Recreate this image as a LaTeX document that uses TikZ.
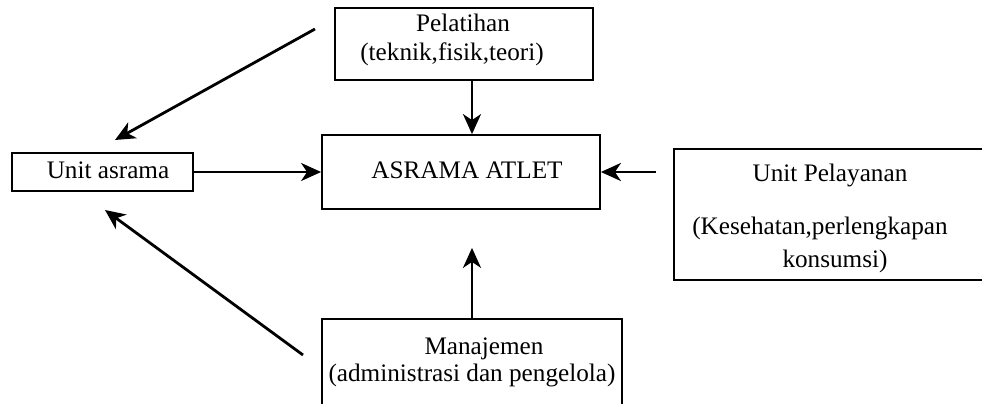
\documentclass[tikz,border=0pt]{standalone}
\usepackage{fontspec}
\setmainfont{Liberation Serif}
\usetikzlibrary{arrows.meta}
\begin{document}
\begin{tikzpicture}[x=1pt,y=-1pt,
  box/.style={draw=black, line width=1.8pt, inner sep=0pt, fill=none},
  lbl/.style={font=\fontsize{25.2}{29}\selectfont, anchor=base, inner sep=0pt},
  arr/.style={line width=2.8pt, -{Stealth[length=20pt,width=18pt,inset=6pt]}}]
  % canvas
  \useasboundingbox (0,0) rectangle (982,404);
  \fill[white] (0,0) rectangle (982,404);
  \begin{scope}
  \clip (0,0) rectangle (982,404);
  % boxes
  \node[box, minimum width=258pt, minimum height=72pt] (pel) at (464,44) {};
  \node[box, minimum width=278pt, minimum height=74pt] (asr) at (461,172) {};
  \node[box, minimum width=181pt, minimum height=38pt] (ua)  at (102.5,172) {};
  \node[box, minimum width=321pt, minimum height=131pt] (upl) at (834.5,214.5) {};
  \node[box, minimum width=300pt, minimum height=101pt] (man) at (472,369.5) {};
  \end{scope}
  % texts
  \node[lbl] (pelA) at (463,32) {Pelatihan};
  \node[lbl] (pelB) at (452,60) {(teknik,fisik,teori)};
  \node[lbl] (asrA) at (467,178) {ASRAMA ATLET};
  \node[lbl] (uaA)  at (108,178) {Unit asrama};
  \node[lbl] (uplA) at (830,181) {Unit Pelayanan};
  \node[lbl] (uplB) at (820,234) {(Kesehatan,perlengkapan};
  \node[lbl] (uplC) at (835,267) {konsumsi)};
  \node[lbl] (manA) at (484,354) {Manajemen};
  \node[lbl] (manB) at (472,381) {(administrasi dan pengelola)};
  % free ends of the two slanted connectors
  \coordinate (plS) at (315,29);
  \coordinate (plE) at (115,140);
  \coordinate (mnS) at (303,355);
  \coordinate (mnE) at (105,210);
  % connectors
  \draw[arr] ([xshift=8pt]pel.south) -- ([xshift=11pt]asr.north);
  \draw[arr] (ua.east) -- (asr.west);
  \draw[arr, shorten <=17pt] (upl.west |- asr.east) -- (asr.east);
  \draw[arr, shorten >=38pt] (man.north) -- ([xshift=11pt]asr.south);
  \draw[arr] (plS) -- (plE);
  \draw[arr] (mnS) -- (mnE);
\end{tikzpicture}
\end{document}
